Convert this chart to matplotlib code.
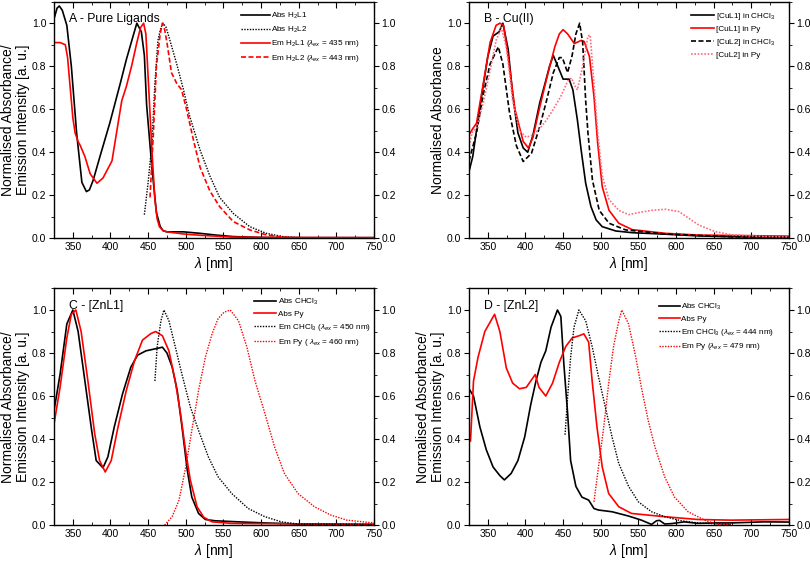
import matplotlib
matplotlib.use("Agg")
import matplotlib.pyplot as plt
from matplotlib.ticker import MultipleLocator

plt.rcParams['font.family'] = ['Liberation Sans', 'DejaVu Sans']
plt.rcParams['mathtext.fontset'] = 'custom'
plt.rcParams['mathtext.rm'] = 'Liberation Sans'
plt.rcParams['mathtext.it'] = 'Liberation Sans:italic'

RED = '#ff0000'
PINK = '#ff6a7a'

# ---- A - Pure ligands ----
a_abs1_x = [325, 329, 332, 336, 342, 348, 355, 362, 368, 372, 377, 386, 399, 413, 421, 430, 435,
            441, 445, 448, 455, 461, 466, 470, 475, 497, 519, 540, 563, 600, 650, 750]
a_abs1_y = [1.02, 1.07, 1.08, 1.06, 0.99, 0.80, 0.49, 0.26, 0.217, 0.225, 0.27, 0.38, 0.535, 0.72, 0.83, 0.94, 1.0,
            0.96, 0.85, 0.62, 0.33, 0.12, 0.055, 0.035, 0.03, 0.03, 0.023, 0.015, 0.008, 0.004, 0.003, 0.003]
a_abs2_x = [445, 450, 455, 459, 463, 467, 470, 474, 479, 488, 497, 505, 519, 532, 545, 563, 585, 607, 629, 650, 750]
a_abs2_y = [0.11, 0.26, 0.44, 0.72, 0.92, 0.98, 1.0, 0.98, 0.92, 0.81, 0.69, 0.57, 0.41, 0.29, 0.19, 0.116, 0.054,
            0.023, 0.008, 0.003, 0.002]
a_em1_x = [325, 333, 340, 343, 346, 350, 353, 357, 360, 366, 373, 382, 390, 402, 408, 415, 421, 428, 435, 440, 444,
           447, 450, 455, 459, 462, 465, 470, 475, 497, 519, 560, 600, 750]
a_em1_y = [0.91, 0.91, 0.90, 0.84, 0.72, 0.56, 0.49, 0.45, 0.43, 0.38, 0.30, 0.256, 0.28, 0.36, 0.49, 0.64, 0.705, 0.80,
           0.91, 0.98, 1.0, 0.95, 0.75, 0.41, 0.18, 0.09, 0.054, 0.035, 0.03, 0.02, 0.014, 0.006, 0.004, 0.003]
a_em2_x = [452.5, 457, 461, 466, 469, 472, 475, 481, 488, 494.5, 501, 510, 519, 532, 545, 563, 585, 607, 629, 650, 750]
a_em2_y = [0.19, 0.49, 0.80, 0.95, 1.0, 0.97, 0.91, 0.77, 0.72, 0.69, 0.60, 0.46, 0.33, 0.22, 0.147, 0.078, 0.039,
           0.016, 0.005, 0.002, 0.002]

# ---- B - Cu(II) ----
b_cu1c_x = [325, 330, 339, 350, 357, 361, 365, 370, 377, 383, 390, 397, 403, 410, 419, 426, 432, 437,
            443, 450, 458, 463, 469, 474, 480, 487, 494, 502, 520, 542, 586, 630, 674, 750]
b_cu1c_y = [0.31, 0.38, 0.60, 0.845, 0.94, 0.95, 0.96, 1.0, 0.88, 0.67, 0.49, 0.42, 0.40, 0.48, 0.63, 0.72, 0.80, 0.85,
            0.80, 0.74, 0.74, 0.69, 0.55, 0.41, 0.256, 0.147, 0.085, 0.054, 0.034, 0.026, 0.019, 0.011, 0.007, 0.005]
b_cu1p_x = [325, 330, 335, 344, 353, 361, 366, 371, 377, 386, 397, 404, 410, 419, 428, 439, 445, 450, 456,
            465, 474, 478, 485, 491, 496, 502, 511, 524, 542, 586, 630, 750]
b_cu1p_y = [0.48, 0.51, 0.535, 0.72, 0.91, 0.99, 1.0, 0.99, 0.845, 0.60, 0.45, 0.42, 0.47, 0.61, 0.74, 0.89, 0.95, 0.97,
            0.95, 0.905, 0.92, 0.915, 0.845, 0.66, 0.44, 0.24, 0.13, 0.07, 0.04, 0.023, 0.015, 0.01]
b_cu2c_x = [325, 335, 344, 353, 364, 370, 379, 388, 397, 408, 419, 428, 437, 445, 449, 456, 462, 467, 472,
            476, 480, 483, 489, 498, 511, 533, 586, 674, 750]
b_cu2c_y = [0.36, 0.49, 0.67, 0.81, 0.89, 0.81, 0.58, 0.43, 0.357, 0.395, 0.52, 0.64, 0.77, 0.84, 0.84, 0.77, 0.85, 0.95, 1.0,
            0.91, 0.64, 0.49, 0.27, 0.13, 0.07, 0.039, 0.02, 0.007, 0.005]
b_cu2p_x = [325, 330, 335, 344, 353, 361, 368, 375, 383, 392, 401, 410, 419, 428, 437, 447, 456, 461, 467,
            469, 476, 483, 486, 491, 496, 502, 511, 524, 537, 551, 568, 586, 604, 617, 630, 652, 674, 718, 750]
b_cu2p_y = [0.43, 0.50, 0.51, 0.63, 0.78, 0.92, 0.98, 0.88, 0.64, 0.50, 0.47, 0.48, 0.51, 0.55, 0.60, 0.66, 0.73, 0.745,
            0.70, 0.69, 0.80, 0.94, 0.945, 0.72, 0.49, 0.29, 0.18, 0.13, 0.11, 0.12, 0.13, 0.135, 0.124, 0.093, 0.062,
            0.031, 0.016, 0.008, 0.006]

# ---- C - [ZnL1] ----
c_absc_x = [325, 333, 342, 350, 357, 366, 375, 381, 390, 396.5, 405, 416, 427, 436, 447, 460, 469, 475,
            482, 488.6, 495, 502, 508, 517, 526, 539, 570, 605, 649, 750]
c_absc_y = [0.533, 0.70, 0.935, 1.0, 0.90, 0.67, 0.44, 0.30, 0.266, 0.317, 0.456, 0.61, 0.734, 0.79, 0.81, 0.82, 0.827,
            0.80, 0.734, 0.626, 0.456, 0.255, 0.13, 0.054, 0.026, 0.02, 0.015, 0.01, 0.005, 0.003]
c_absp_x = [325, 333, 342, 348, 354, 361, 370, 379, 385.5, 393, 401, 410, 421, 432, 442.5, 453.5, 460, 469,
            477.6, 486, 493, 499.6, 506, 515, 524, 535, 561, 750]
c_absp_y = [0.47, 0.64, 0.87, 0.98, 1.0, 0.90, 0.67, 0.425, 0.30, 0.247, 0.30, 0.456, 0.626, 0.765, 0.86, 0.89, 0.90, 0.88,
            0.81, 0.67, 0.52, 0.35, 0.21, 0.085, 0.036, 0.015, 0.008, 0.003]
c_emc_x = [459, 462, 467, 471, 477.6, 486, 495, 506, 517, 530, 543, 561, 583, 605, 627, 649, 750]
c_emc_y = [0.67, 0.83, 0.95, 1.0, 0.95, 0.83, 0.70, 0.55, 0.44, 0.317, 0.224, 0.147, 0.077, 0.039, 0.015, 0.005, 0.003]
c_emp_x = [472, 482, 491, 500, 508, 517, 526, 535, 543, 551, 559, 570, 581, 592, 605, 618, 631, 649,
           671, 693, 714, 744, 750]
c_emp_y = [0.0, 0.04, 0.116, 0.27, 0.44, 0.626, 0.78, 0.89, 0.96, 0.99, 1.0, 0.95, 0.83, 0.67, 0.52, 0.363, 0.24, 0.147,
           0.085, 0.046, 0.023, 0.012, 0.011]

# ---- D - [ZnL2] ----
d_absc_x = [325, 331, 339.5, 348, 357, 366, 372, 381, 390, 399, 407, 414, 420.6, 427, 434, 442.5, 447,
            451, 456, 460, 467, 475, 484, 491, 497, 515, 537, 554, 567.5, 574, 578, 585, 594, 611, 629,
            651, 673, 717, 750]
d_absc_y = [0.634, 0.60, 0.456, 0.35, 0.27, 0.23, 0.21, 0.24, 0.30, 0.41, 0.56, 0.67, 0.757, 0.81, 0.92, 1.0, 0.97,
            0.75, 0.52, 0.30, 0.18, 0.13, 0.116, 0.077, 0.07, 0.062, 0.042, 0.023, 0.003, 0.02, 0.022, 0.005, 0.007,
            0.015, 0.008, 0.01, 0.01, 0.015, 0.014]
d_absp_x = [325, 327, 331, 337, 346, 359, 366, 374.6, 383, 392, 401, 407, 413, 418, 427, 436, 445, 453.5,
            462, 471, 477.6, 484, 488.6, 495, 502, 510.5, 524, 541, 585, 629, 673, 750]
d_absp_y = [0.43, 0.39, 0.67, 0.78, 0.90, 0.98, 0.90, 0.73, 0.66, 0.634, 0.64, 0.67, 0.70, 0.64, 0.60, 0.66, 0.757, 0.83,
            0.87, 0.88, 0.889, 0.85, 0.67, 0.456, 0.27, 0.147, 0.085, 0.054, 0.039, 0.026, 0.023, 0.026]
d_emc_x = [452.6, 456, 460, 464.5, 471, 480, 488.6, 497, 506, 515, 524, 537, 550, 567.5, 585, 607, 629, 673]
d_emc_y = [0.42, 0.595, 0.78, 0.92, 1.0, 0.95, 0.83, 0.69, 0.55, 0.41, 0.286, 0.18, 0.108, 0.062, 0.039, 0.02, 0.01,
           0.003]
d_emp_x = [491, 497, 504, 510.5, 517, 524, 528, 537, 546, 554, 563, 572, 585, 598, 616, 638, 655, 673]
d_emp_y = [0.108, 0.27, 0.456, 0.657, 0.83, 0.95, 1.0, 0.935, 0.79, 0.64, 0.487, 0.363, 0.224, 0.13, 0.062, 0.023, 0.003,
           0.002]

YLAB = 'Normalised Absorbance/\nEmission Intensity [a. u.]'
DASH = (0, (3, 1.5))
DOT = (0, (1, 1))

# rect, title, y label, legend anchor, handle length, series
panels = [
    ([0.0667, 0.5775, 0.395, 0.4195], 'A - Pure Ligands', YLAB, (0.956, 0.962), 3.5, [
        (a_abs1_x, a_abs1_y, 'k', '-', 1.2, r'Abs H$_2$L1'),
        (a_abs2_x, a_abs2_y, 'k', DOT, 1.0, r'Abs H$_2$L2'),
        (a_em1_x, a_em1_y, RED, '-', 1.2, r'Em H$_2$L1 ($\lambda_{ex}$ = 435 nm)'),
        (a_em2_x, a_em2_y, RED, DASH, 1.2, r'Em H$_2$L2 ($\lambda_{ex}$ = 443 nm)'),
    ]),
    ([0.579, 0.5775, 0.395, 0.4195], 'B - Cu(II)', 'Normalised Absorbance', (0.956, 0.962), 2.8, [
        (b_cu1c_x, b_cu1c_y, 'k', '-', 1.2, r'[CuL1] in CHCl$_3$'),
        (b_cu1p_x, b_cu1p_y, RED, '-', 1.2, '[CuL1] in Py'),
        (b_cu2c_x, b_cu2c_y, 'k', DASH, 1.2, r'[CuL2] in CHCl$_3$'),
        (b_cu2p_x, b_cu2p_y, PINK, DOT, 1.2, '[CuL2] in Py'),
    ]),
    ([0.0667, 0.069, 0.395, 0.4195], 'C - [ZnL1]', YLAB, (0.99, 0.966), 2.7, [
        (c_absc_x, c_absc_y, 'k', '-', 1.2, r'Abs CHCl$_3$'),
        (c_absp_x, c_absp_y, RED, '-', 1.2, 'Abs Py'),
        (c_emc_x, c_emc_y, 'k', DOT, 1.0, r'Em CHCl$_3$ ($\lambda_{ex}$ = 450 nm)'),
        (c_emp_x, c_emp_y, RED, DOT, 1.0, r'Em Py ( $\lambda_{ex}$ = 460 nm)'),
    ]),
    ([0.579, 0.069, 0.395, 0.4195], 'D - [ZnL2]', YLAB, (0.955, 0.945), 2.6, [
        (d_absc_x, d_absc_y, 'k', '-', 1.2, r'Abs CHCl$_3$'),
        (d_absp_x, d_absp_y, RED, '-', 1.2, 'Abs Py'),
        (d_emc_x, d_emc_y, 'k', DOT, 1.0, r'Em CHCl$_3$ ($\lambda_{ex}$ = 444 nm)'),
        (d_emp_x, d_emp_y, RED, DOT, 1.0, r'Em Py ($\lambda_{ex}$ = 479 nm)'),
    ]),
]

fig = plt.figure(figsize=(8.1, 5.64), dpi=100)

for rect, title, ylab, anchor, hlen, series in panels:
    ax = fig.add_axes(rect)
    for x, y, c, ls, lw, lab in series:
        ax.plot(x, y, color=c, ls=ls, lw=lw, label=lab)
    ax.set_xlim(325, 750)
    ax.set_ylim(0, 1.1)
    ax.xaxis.set_major_locator(MultipleLocator(50))
    ax.xaxis.set_minor_locator(MultipleLocator(25))
    ax.yaxis.set_major_locator(MultipleLocator(0.2))
    ax.yaxis.set_minor_locator(MultipleLocator(0.1))
    ax.yaxis.set_major_formatter(plt.FormatStrFormatter('%.1f'))
    ax.tick_params(axis='x', which='both', direction='in', top=True, labelsize=7.5, pad=3)
    ax.tick_params(axis='x', which='major', length=4)
    ax.tick_params(axis='x', which='minor', length=2)
    ax.tick_params(axis='y', which='both', direction='out', right=True, labelright=True,
                   labelsize=7.5, pad=2)
    ax.tick_params(axis='y', which='major', length=3.5)
    ax.tick_params(axis='y', which='minor', length=2)
    for s in ax.spines.values():
        s.set_linewidth(1.0)
    ax.set_xlabel(r'$\lambda$ [nm]', fontsize=10, labelpad=2)
    ax.set_ylabel(ylab, fontsize=10, labelpad=1, linespacing=1.15)
    ax.text(0.047, 0.952, title, transform=ax.transAxes, fontsize=8.8, va='top', ha='left')
    ax.legend(loc='upper right', bbox_to_anchor=anchor, frameon=False, fontsize=5.9,
              handlelength=hlen, handletextpad=0.2, labelspacing=0.45, borderpad=0,
              borderaxespad=0)

fig.savefig('out.png', dpi=100)
